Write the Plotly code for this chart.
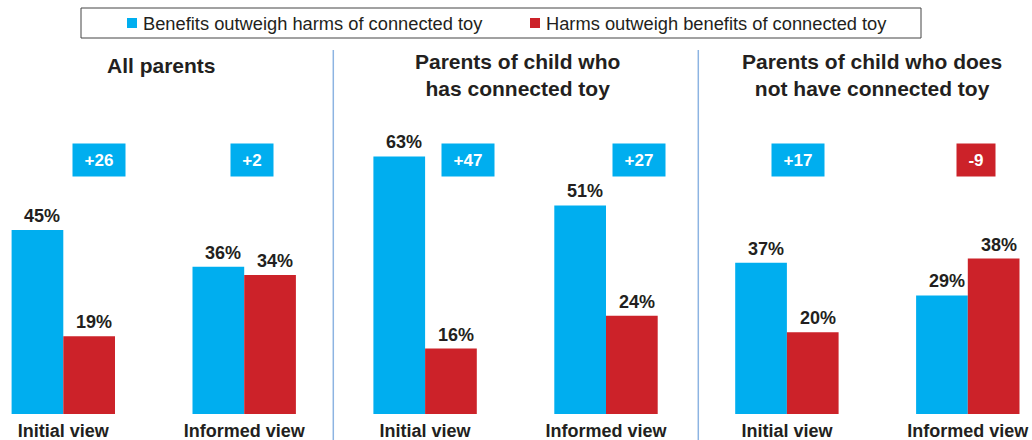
import plotly.graph_objects as go

# ---- data -------------------------------------------------------------
PANEL_TITLES = [
    ["All parents"],
    ["Parents of child who", "has connected toy"],
    ["Parents of child who does", "not have connected toy"],
]
VIEWS = ["Initial view", "Informed view"]
SERIES_NAMES = [
    "Benefits outweigh harms of connected toy",
    "Harms outweigh benefits of connected toy",
]
BENEFITS = [45, 36, 63, 51, 37, 29]
HARMS = [19, 34, 16, 24, 20, 38]

# ---- styling ----------------------------------------------------------
BLUE = "#00AEEF"
RED = "#CC2229"
INK = "#231F20"
SEP = "#8DB4E2"
FONT = "Arial, Liberation Sans, sans-serif"

W, H = 1032, 440
PLOT_H = 414            # height of plotting area in px (bottom margin holds tick labels)
X0_PX, STEP_PX = 63.3, 180.9
BAR_PX = 51.7
PX_PER_PCT = 4.089

# panel title centres (px)
TITLE_CX = [161, 517, 872]
TITLE_CY = [65, 75, 75]
# horizontal nudge (px) of each difference badge from its group centre
BADGE_SHIFT = [36, 8, 43, 33, 11, 8]
BADGE_CY = 160


def px_x(p):
    return p / W


def px_y(p):
    return 1 - p / PLOT_H


n = len(BENEFITS)
xs = list(range(n))
tick_text = [VIEWS[i % 2] for i in xs]

fig = go.Figure()
fig.add_trace(go.Bar(x=xs, y=BENEFITS, name=SERIES_NAMES[0],
                     marker=dict(color=BLUE, line=dict(width=0)), showlegend=False,
                     hoverinfo="skip"))
fig.add_trace(go.Bar(x=xs, y=HARMS, name=SERIES_NAMES[1],
                     marker=dict(color=RED, line=dict(width=0)), showlegend=False,
                     hoverinfo="skip"))

annotations = []
shapes = []

# value labels above each bar
half = (BAR_PX / 2) / STEP_PX
for i in xs:
    for val, dx in ((BENEFITS[i], -half), (HARMS[i], half)):
        annotations.append(dict(
            x=i + dx, y=val, xref="x", yref="y", text=f"{val}%",
            showarrow=False, xanchor="center", yanchor="bottom",
            xshift=5, yshift=2,
            font=dict(family=FONT, size=18, color=INK, weight="bold")))

# difference badges (benefits minus harms)
GLYPH_W = {"+": 584, "-": 333}
for i in xs:
    d = BENEFITS[i] - HARMS[i]
    txt = f"{d:+d}"
    tw = sum(GLYPH_W.get(c, 556) for c in txt) * 17 / 1000
    annotations.append(dict(
        x=i, y=px_y(BADGE_CY), xref="x", yref="paper", text=txt,
        showarrow=False, xanchor="center", yanchor="middle",
        xshift=BADGE_SHIFT[i], width=round(tw + 23), height=32, borderpad=0,
        bgcolor=BLUE if d > 0 else RED, align="center", valign="middle",
        font=dict(family=FONT, size=17, color="white", weight="bold")))

# panel titles
for lines, cx, cy in zip(PANEL_TITLES, TITLE_CX, TITLE_CY):
    annotations.append(dict(
        x=px_x(cx), y=px_y(cy), xref="paper", yref="paper", text="<br>".join(lines),
        showarrow=False, xanchor="center", yanchor="middle", align="center",
        font=dict(family=FONT, size=21, color=INK, weight="bold")))

# panel separators
for sx in (333.3, 698.3):
    shapes.append(dict(type="line", xref="paper", yref="paper",
                       x0=px_x(sx), x1=px_x(sx), y0=px_y(50), y1=px_y(H),
                       line=dict(color=SEP, width=1.5)))

# legend box
shapes.append(dict(type="rect", xref="paper", yref="paper",
                   x0=px_x(81), x1=px_x(921), y0=px_y(8), y1=px_y(38),
                   line=dict(color="#444444", width=1), fillcolor="white"))
for (sq_x, txt_x), color, name in zip(((127, 141), (530, 544)), (BLUE, RED), SERIES_NAMES):
    shapes.append(dict(type="rect", xref="paper", yref="paper",
                       x0=px_x(sq_x), x1=px_x(sq_x + 10), y0=px_y(18), y1=px_y(28),
                       line=dict(width=0), fillcolor=color))
    annotations.append(dict(
        x=px_x(txt_x), y=px_y(23.5), xref="paper", yref="paper", text=name,
        showarrow=False, xanchor="left", yanchor="middle",
        font=dict(family=FONT, size=18.3, color=INK)))

bargap = 1 - (2 * BAR_PX) / STEP_PX

fig.update_layout(
    width=W, height=H,
    margin=dict(l=0, r=0, t=0, b=H - PLOT_H, pad=0),
    paper_bgcolor="white", plot_bgcolor="white",
    barmode="group", bargap=bargap, bargroupgap=0,
    xaxis=dict(range=[-X0_PX / STEP_PX, (W - X0_PX) / STEP_PX],
               tickvals=xs, ticktext=tick_text, ticks="", ticklabelstandoff=4,
               showgrid=False, zeroline=False, showline=False,
               tickfont=dict(family=FONT, size=18, color=INK, weight="bold"),
               fixedrange=True),
    yaxis=dict(range=[0, PLOT_H / PX_PER_PCT], visible=False,
               showgrid=False, zeroline=False, fixedrange=True),
    annotations=annotations,
    shapes=shapes,
    showlegend=False,
)

fig.write_html("out.html", config={"displayModeBar": False})
